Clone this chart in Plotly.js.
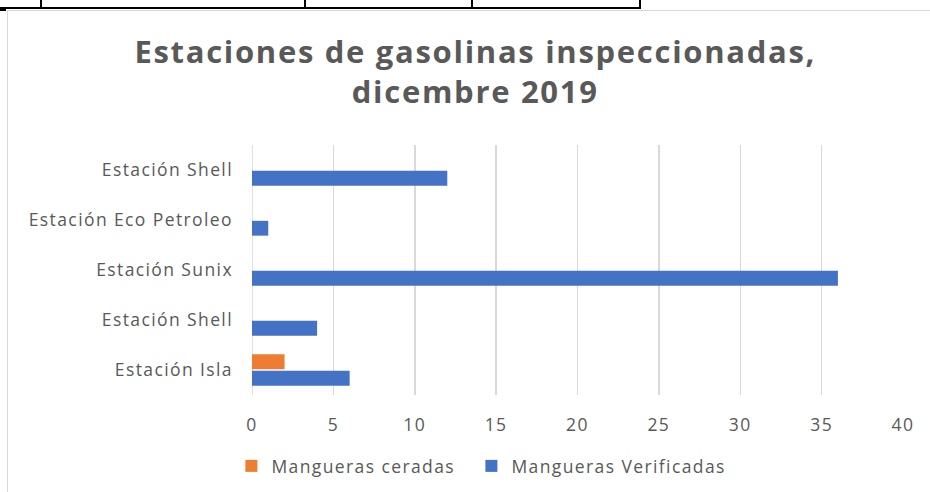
<!DOCTYPE html>
<html>
<head>
<meta charset="utf-8">
<script src="https://cdn.plot.ly/plotly-3.0.1.min.js"></script>
<style>
  html, body { margin: 0; padding: 0; background: #ffffff; }
  #wrap { position: relative; width: 930px; height: 492px; overflow: hidden; }
  #chart { position: absolute; left: 0; top: 0; width: 930px; height: 492px; }
  .frame { position: absolute; left: 7px; top: 10px; width: 940px; height: 500px; border: 1px solid #d9d9d9; box-sizing: border-box; }
  .hl { position: absolute; background: #000; }
  #chart .gtitle { letter-spacing: 1.7px; }
  #chart .ytick text { letter-spacing: 1.4px; }
  #chart .xtick text { letter-spacing: 1.4px; }
  #chart .legendtext { letter-spacing: 1.4px; }
  #chart .legend, #chart .legend * { clip-path: none !important; }
</style>
</head>
<body>
<div id="wrap">
  <div class="frame"></div>
  <div class="hl" style="left:0;top:7px;width:641px;height:2px;"></div>
  <div class="hl" style="left:40px;top:0;width:2px;height:8px;"></div>
  <div class="hl" style="left:304px;top:0;width:2px;height:8px;"></div>
  <div class="hl" style="left:471px;top:0;width:2px;height:8px;"></div>
  <div class="hl" style="left:639px;top:0;width:2px;height:8px;"></div>
  <div class="hl" style="left:0;top:9px;width:6px;height:2px;"></div>
  <div id="chart"></div>
</div>
<script>
// Categories, bottom to top
const categories = ["Estación Isla", "Estación Shell", "Estación Sunix", "Estación Eco Petroleo", "Estación Shell"];
const positions = [0, 1, 2, 3, 4];
const mangVerificadas = [6, 4, 36, 1, 12];
const mangCeradas = [2, 0, 0, 0, 0];
const xTicks = [0, 5, 10, 15, 20, 25, 30, 35, 40];

const font = "'Open Sans', sans-serif";
const gray = "#595959";

const traces = [
  {
    type: "bar", orientation: "h", name: "Mangueras Verificadas",
    y: positions, x: mangVerificadas,
    marker: { color: "#4472C4" }, hoverinfo: "x"
  },
  {
    type: "bar", orientation: "h", name: "Mangueras ceradas",
    y: positions, x: mangCeradas,
    marker: { color: "#ED7D31" }, hoverinfo: "x"
  }
];

const layout = {
  width: 930, height: 492,
  paper_bgcolor: "rgba(0,0,0,0)", plot_bgcolor: "rgba(0,0,0,0)",
  margin: { l: 252, r: 27, t: 145, b: 97 },
  barmode: "group", bargap: 0.34, bargroupgap: 0.1,
  title: {
    text: "<b>Estaciones de gasolinas inspeccionadas,<br>dicembre 2019</b>",
    font: { family: font, size: 31, color: gray },
    x: 0.511, xanchor: "center", xref: "container",
    y: 1 - 63 / 492, yanchor: "top", yref: "container"
  },
  xaxis: {
    range: [0, 40], tickvals: xTicks, ticktext: xTicks.map(String),
    showgrid: true, gridcolor: "#d9d9d9", gridwidth: 1.5,
    zeroline: false, showline: false, ticks: "",
    ticklabelstandoff: 17,
    tickfont: { family: font, size: 17.5, color: gray },
    fixedrange: true
  },
  yaxis: {
    range: [-0.5, 4.5], tickvals: positions, ticktext: categories,
    showgrid: false, zeroline: false,
    showline: false, ticks: "",
    ticklabelstandoff: 18,
    tickfont: { family: font, size: 17.5, color: gray },
    fixedrange: true
  },
  shapes: [{
    type: "line", xref: "x", yref: "paper", x0: 0, x1: 0, y0: 0, y1: 1,
    line: { color: "#d9d9d9", width: 1.5 }, layer: "below"
  }],
  legend: {
    orientation: "h", traceorder: "reversed",
    x: 0.337, xanchor: "center",
    y: 1 - 466 / 492, yanchor: "middle", yref: "container",
    font: { family: font, size: 17.5, color: gray },
    itemwidth: 30, entrywidth: 195, entrywidthmode: "pixels"
  },
  showlegend: true
};

Plotly.newPlot("chart", traces, layout, { displayModeBar: false, staticPlot: true });
</script>
</body>
</html>
